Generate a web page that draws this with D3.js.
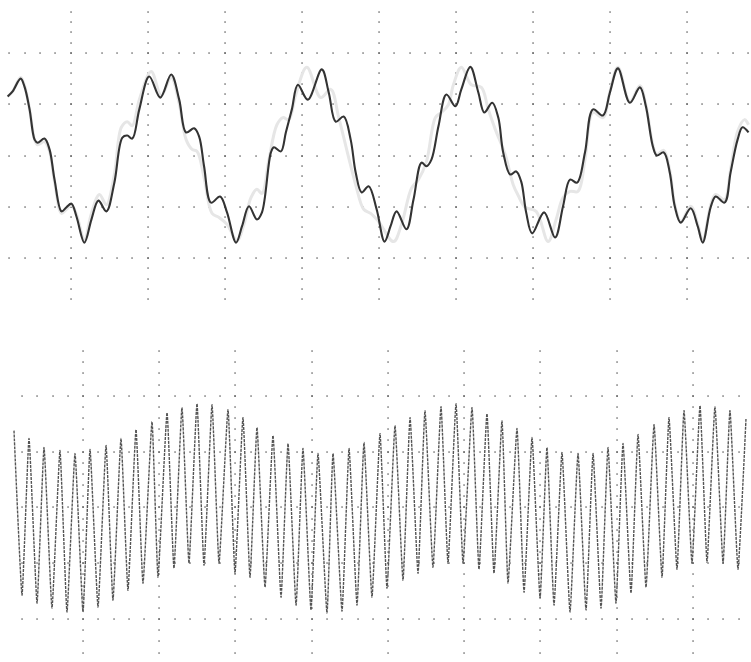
<!DOCTYPE html>
<html>
<head>
<meta charset="utf-8">
<script src="https://cdn.jsdelivr.net/npm/d3@7"></script>
<style>
body { margin: 0; background: #fff; }
</style>
</head>
<body>
<div id="chart"></div>
<script>
var width = 751;
var height = 662;

// upper trace (ms, V)
var topTime = [1.81,2.46,3.50,4.01,4.66,5.31,5.70,6.60,7.25,7.90,8.81,9.45,10.10,10.75,11.78,12.69,13.60,14.63,15.67,16.71,17.35,18.00,18.91,20.20,21.63,23.05,24.09,24.99,26.03,26.68,27.32,28.23,29.40,30.30,31.47,32.25,33.15,34.19,34.84,36.00,36.39,37.30,37.94,38.72,39.50,40.79,42.61,43.51,44.42,45.45,46.36,47.01,47.79,48.69,49.73,50.76,51.54,52.32,53.61,54.52,55.56,56.20,56.85,57.76,58.79,59.96,60.73,61.90,62.94,63.71,64.75,65.53,66.17,67.08,67.86,68.51,69.15,69.93,71.48,72.91,73.94,74.85,75.76,76.79,77.83,79.12,80.03,81.07,82.62,83.92,84.70,85.60,86.12,87.02,87.80,88.45,89.23,90.52,91.43,92.08,93.11,93.76,94.92,95.70,96.61,97.25,98.03];
var topVolt = [115,125,150,134,90,31,25,33,12,-47,-109,-101,-94,-119,-170,-125,-88,-109,-53,35,39,33,90,154,113,158,109,45,53,37,-21,-92,-80,-111,-170,-138,-99,-125,-111,6,16,8,45,90,138,109,168,123,66,76,31,-33,-72,-60,-105,-168,-138,-109,-144,-86,-14,-21,-8,57,119,96,129,173,123,84,103,74,6,-37,-31,-51,-111,-152,-111,-160,-99,-47,-53,6,90,78,123,170,103,133,96,18,0,6,-33,-99,-131,-103,-138,-170,-101,-80,-92,-33,31,55,45];

// faint reference trace behind it
var ghostTime = [1.81,2.46,3.50,4.01,4.66,5.31,5.70,6.60,7.25,7.90,8.81,9.45,10.10,10.75,11.78,12.69,13.73,14.63,15.67,16.58,17.35,18.00,18.91,20.46,21.76,23.05,24.09,24.99,25.77,26.42,27.32,28.36,29.27,30.30,31.60,32.50,33.41,34.19,34.84,35.74,36.78,37.56,38.33,39.24,40.66,42.47,43.77,44.81,46.10,47.01,48.05,48.95,49.99,51.93,52.97,54.26,55.17,56.20,57.37,58.14,59.05,59.70,60.73,62.03,63.33,64.23,65.14,66.43,67.47,68.12,69.02,70.45,72.00,73.04,73.94,74.85,75.88,76.79,77.83,79.12,80.03,81.07,82.62,83.92,84.70,85.60,86.12,87.02,87.80,88.45,89.23,90.52,91.43,92.08,93.11,93.76,94.92,95.70,96.61,97.51,98.03];
var ghostVolt = [115,125,152,136,90,31,21,27,8,-51,-113,-105,-97,-115,-164,-113,-76,-96,-37,55,66,58,109,164,117,152,101,31,12,8,-43,-113,-121,-134,-166,-134,-82,-66,-74,-8,60,74,70,119,172,113,129,74,-4,-57,-105,-113,-129,-168,-134,-64,-47,-12,74,84,99,138,172,138,133,90,51,2,-57,-78,-101,-109,-168,-125,-82,-70,-70,-8,84,74,125,172,105,136,99,21,2,10,-29,-96,-129,-99,-134,-166,-97,-76,-86,-27,47,70,60];

// lower trace (µs, V): crests and troughs of each cycle
var peakTime = [9.5,29.2,48.9,69.8,89.5,109.2,130.2,149.8,169.5,190.5,210.2,229.8,249.5,269.2,290.2,309.8,328.2,349.2,368.9,388.5,408.2,427.9,448.9,468.5,489.5,509.2,528.9,548.5,569.5,589.2,610.2,629.8,649.5,669.2,688.9,708.5,728.2,749.2,768.9,788.5,808.2,827.9,848.9,868.5,888.2,909.2,928.8,948.5,969.5];
var peakVolt = [1.375,1.232,1.071,1.018,0.964,1.036,1.107,1.232,1.393,1.536,1.696,1.786,1.857,1.839,1.750,1.607,1.429,1.286,1.143,1.054,0.964,0.964,1.054,1.161,1.321,1.464,1.607,1.732,1.804,1.857,1.786,1.679,1.554,1.411,1.250,1.071,0.982,0.964,0.964,1.071,1.143,1.304,1.482,1.607,1.732,1.821,1.804,1.732,1.589];
var troughTime = [20.0,39.7,59.3,79.0,100.0,119.7,139.3,159.0,178.7,198.4,219.3,239.0,258.7,278.4,299.3,319.0,338.7,359.7,379.4,399.0,420.0,439.7,459.4,479.0,498.7,519.7,539.4,559.0,578.7,598.4,619.3,639.0,657.4,678.4,699.4,717.7,738.7,759.7,779.4,799.0,818.7,838.4,859.4,879.0,898.7,918.4,939.4,959.0];
var troughVolt = [-1.571,-1.714,-1.804,-1.875,-1.875,-1.786,-1.661,-1.482,-1.357,-1.250,-1.089,-1.000,-1.036,-1.000,-1.179,-1.250,-1.429,-1.607,-1.750,-1.839,-1.893,-1.857,-1.750,-1.607,-1.446,-1.304,-1.179,-1.071,-1.000,-1.000,-1.107,-1.179,-1.357,-1.518,-1.625,-1.750,-1.875,-1.839,-1.804,-1.714,-1.536,-1.429,-1.250,-1.107,-1.000,-0.982,-1.000,-1.107];

// graticule divisions
var topDivT = [10,20,30,40,50,60,70,80,90];
var topDivV = [-200,-100,0,100,200];
var botDivT = [100,200,300,400,500,600,700,800,900];
var botDivV = [-2,-1,0,1,2];

var svg = d3.select("#chart").append("svg")
  .attr("width", width)
  .attr("height", height);

var xTop = d3.scaleLinear().domain([0, 100]).range([-6.3, 763.7]);
var yTop = d3.scaleLinear().domain([-300, 300]).range([309.25, 1.75]);
var xBot = d3.scaleLinear().domain([0, 1000]).range([6.75, 769.25]);
var yBot = d3.scaleLinear().domain([-3, 3]).range([674.95, 339.85]);

function graticule(g, x, y, divT, divV, rowT, colV) {
  var dots = [];
  divV.forEach(function(v) {
    rowT.forEach(function(t) { dots.push([t, v]); });
  });
  divT.forEach(function(t) {
    colV.forEach(function(v) { dots.push([t, v]); });
  });
  g.selectAll("rect")
    .data(dots)
    .enter().append("rect")
    .attr("x", function(d) { return Math.round(x(d[0])) - 0.6; })
    .attr("y", function(d) { return Math.round(y(d[1])) - 0.6; })
    .attr("width", 1.3)
    .attr("height", 1.3)
    .attr("fill", "#4a4a4a");
}

var gTop = svg.append("g");
graticule(gTop, xTop, yTop, topDivT, topDivV,
  d3.range(2, 99, 2),
  d3.range(-280, 281, 20));

var gBot = svg.append("g");
graticule(gBot, xBot, yBot, botDivT, botDivV,
  d3.range(20, 980, 20),
  d3.range(-28, 29, 2).map(function(v) { return v / 10; }));

var topLine = d3.line()
  .x(function(d) { return xTop(d[0]); })
  .y(function(d) { return yTop(d[1]); })
  .curve(d3.curveCatmullRom);

svg.append("path")
  .datum(d3.zip(ghostTime, ghostVolt))
  .attr("d", topLine)
  .attr("fill", "none")
  .attr("stroke", "#e6e6e6")
  .attr("stroke-width", 3)
  .attr("stroke-linejoin", "round");

svg.append("path")
  .datum(d3.zip(topTime, topVolt))
  .attr("d", topLine)
  .attr("fill", "none")
  .attr("stroke", "#333")
  .attr("stroke-width", 2.1)
  .attr("stroke-linejoin", "round");

var botData = d3.zip(peakTime, peakVolt).concat(d3.zip(troughTime, troughVolt))
  .sort(function(a, b) { return a[0] - b[0]; });

var botLine = d3.line()
  .x(function(d) { return xBot(d[0]); })
  .y(function(d) { return yBot(d[1]); })
  .curve(d3.curveCardinal.tension(0.6));

svg.append("path")
  .datum(botData)
  .attr("d", botLine)
  .attr("fill", "none")
  .attr("stroke", "#555")
  .attr("stroke-width", 1.4)
  .attr("stroke-dasharray", "3,1");
</script>
</body>
</html>
